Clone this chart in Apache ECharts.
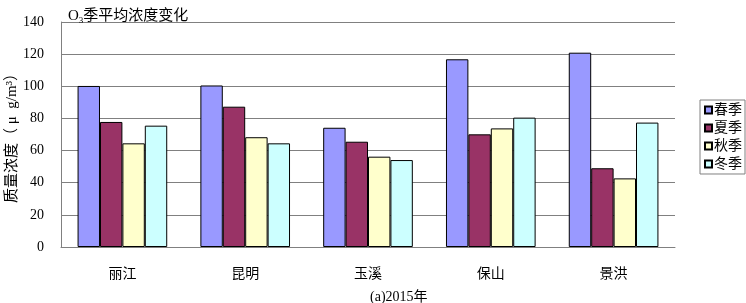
<!DOCTYPE html>
<html>
<head>
<meta charset="utf-8">
<script src="https://cdn.jsdelivr.net/npm/echarts@6/dist/echarts.min.js"></script>
<style>
html,body{margin:0;padding:0;background:#fff;}
#main{width:746px;height:303px;}
</style>
</head>
<body>
<div id="main"></div>
<script>
var cities = ['丽江', '昆明', '玉溪', '保山', '景洪'];
var seasons = ['春季', '夏季', '秋季', '冬季'];
var spring = [100.2, 100.5, 74.2, 116.8, 120.9];
var summer = [77.8, 87.3, 65.5, 70.1, 49.0];
var autumn = [64.5, 68.3, 56.2, 73.8, 42.7];
var winter = [75.5, 64.5, 54.1, 80.5, 77.4];
var seasonColors = ['#9999ff', '#993366', '#ffffcc', '#ccffff'];

var FONT = "'Liberation Serif', 'Noto Sans CJK SC', serif";
var chart = echarts.init(document.getElementById('main'));

function bar(name, data, color){
	return {
		name: name,
		type: 'bar',
		data: data,
		barGap: '0%',
		barCategoryGap: '27%',
		itemStyle: {color: color, borderColor: '#000', borderWidth: 1}
	};
}

var option = {
	animation: false,
	backgroundColor: '#fff',
	textStyle: {fontFamily: FONT},
	title: [{
		text: '{o|O}{sub|3}{t|季平均浓度变化}',
		left: 63, top: 3,
		textStyle: {
			fontWeight: 'normal',
			rich: {
				o: {fontFamily: FONT, fontSize: 15, fontWeight: 'normal', color: '#000'},
				sub: {fontFamily: FONT, fontSize: 9, fontWeight: 'normal', color: '#000', verticalAlign: 'bottom', padding: [8, 0, 0, 0]},
				t: {fontFamily: FONT, fontSize: 15, fontWeight: 'normal', color: '#000'}
			}
		}
	}, {
		text: '(a)2015年',
		left: 365, top: 285,
		textStyle: {fontFamily: FONT, fontSize: 14, fontWeight: 'normal', color: '#000'}
	}],
	legend: {
		data: seasons,
		orient: 'vertical',
		right: 1, top: 100,
		itemWidth: 7, itemHeight: 7,
		itemGap: 4,
		padding: [3, 3, 3, 4],
		borderColor: '#808080', borderWidth: 1,
		icon: 'rect',
		textStyle: {fontFamily: FONT, fontSize: 14, color: '#000', padding: [0, 0, 0, -3]}
	},
	grid: {left: 61, right: 71, top: 22, bottom: 56, containLabel: false, outerBoundsMode: 'none'},
	xAxis: {
		type: 'category',
		data: cities,
		axisLine: {lineStyle: {color: '#808080'}},
		axisTick: {inside: true, length: 4, lineStyle: {color: '#808080'}},
		axisLabel: {fontFamily: FONT, fontSize: 14, color: '#000', margin: 20}
	},
	yAxis: {
		type: 'value',
		min: 0, max: 140, interval: 20,
		name: '质量浓度（ μ  g/m³）',
		nameLocation: 'middle',
		nameGap: 41,
		nameMoveOverlap: false,
		nameTextStyle: {fontFamily: FONT, fontSize: 15, color: '#000'},
		axisLine: {show: true, lineStyle: {color: '#808080'}},
		axisTick: {show: false},
		axisLabel: {fontFamily: FONT, fontSize: 14, color: '#000', margin: 17},
		splitLine: {lineStyle: {color: '#808080'}}
	},
	series: [
		bar(seasons[0], spring, seasonColors[0]),
		bar(seasons[1], summer, seasonColors[1]),
		bar(seasons[2], autumn, seasonColors[2]),
		bar(seasons[3], winter, seasonColors[3])
	]
};
chart.setOption(option);
</script>
</body>
</html>
